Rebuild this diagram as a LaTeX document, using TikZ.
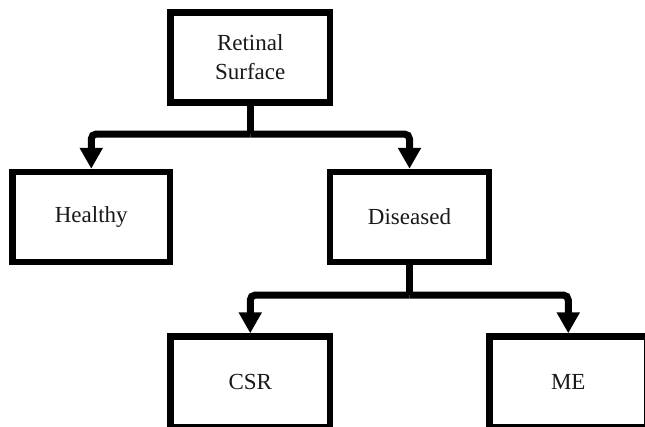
\documentclass[tikz,border=0pt]{standalone}
\usepackage{fontspec}
\setmainfont{Liberation Serif}
\usetikzlibrary{arrows.meta}
\begin{document}
\begin{tikzpicture}[x=1pt,y=1pt,
  box/.style={draw=black,line width=6.5pt,rectangle,fill=white,align=center,
    font=\fontsize{23}{29}\selectfont,text=black!90,inner sep=0pt},
  conn/.style={draw=black,line width=7pt,rounded corners=5pt},
  arr/.style={conn,-{Triangle[width=22pt,length=21pt]}}]
\useasboundingbox (0,0) rectangle (645,-426);
\clip (0,0) rectangle (645,-426);
\node[box,minimum width=159.5pt,minimum height=90pt] (r) at (250.25,-57.5) {Retinal\\Surface};
\node[box,minimum width=157.5pt,minimum height=90pt] (h) at (91.25,-217) {Healthy};
\node[box,minimum width=159pt,minimum height=90pt] (d) at (409.5,-217) {Diseased};
\node[box,minimum width=159.5pt,minimum height=90.5pt] (c) at (250.25,-381.75) {CSR};
\node[box,minimum width=157.5pt,minimum height=90.5pt] (m) at (568.25,-381.75) {ME};
\coordinate (j1) at (250.25,-134);
\coordinate (j2) at (409.5,-295);
\draw[conn] (r.south) -- (j1);
\draw[arr] (j1) -| (h.north);
\draw[arr] (j1) -| (d.north);
\draw[conn] (d.south) -- (j2);
\draw[arr] (j2) -| (c.north);
\draw[arr] (j2) -| (m.north);
\end{tikzpicture}
\end{document}
